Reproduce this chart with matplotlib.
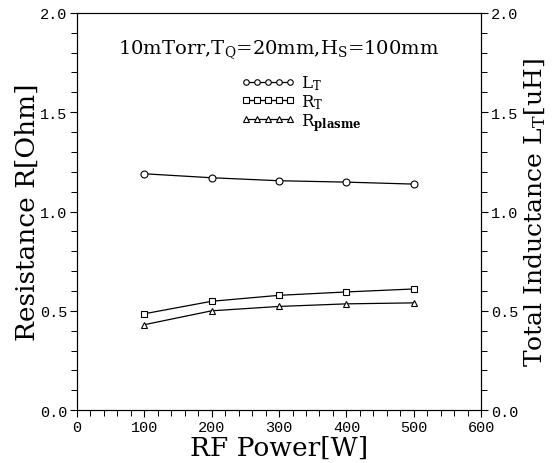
import matplotlib
matplotlib.use("Agg")
import matplotlib.pyplot as plt
from matplotlib.ticker import MultipleLocator

plt.rcParams["font.family"] = ["DejaVu Serif"]
plt.rcParams["mathtext.fontset"] = "dejavuserif"

power = [100, 200, 300, 400, 500]
l_total = [1.19, 1.17, 1.155, 1.148, 1.138]
r_total = [0.485, 0.548, 0.578, 0.595, 0.61]
r_plasma = [0.43, 0.50, 0.522, 0.535, 0.54]

x_ticks = [0, 100, 200, 300, 400, 500, 600]
y_ticks = [0.0, 0.5, 1.0, 1.5, 2.0]

fig = plt.figure(figsize=(5.57, 4.64), dpi=100)
ax = fig.add_axes([0.138, 0.114, 0.726, 0.856])
ax2 = ax.twinx()

mk = dict(color="black", lw=0.9, ms=5, mfc="white", mew=0.8)
l1, = ax2.plot(power, l_total, marker="o", label=r"L$_\mathrm{T}$", **mk)
l2, = ax.plot(power, r_total, marker="s", label=r"R$_\mathrm{T}$", **mk)
l3, = ax.plot(power, r_plasma, marker="^", label=r"R$_\mathbf{plasme}$", **mk)

ax.set_xlim(0, 600)
ax.set_ylim(0, 2.0)
ax2.set_ylim(0, 2.0)
ax.set_xticks(x_ticks)
ax.set_yticks(y_ticks)
ax2.set_yticks(y_ticks)
ax.xaxis.set_minor_locator(MultipleLocator(20))
ax.yaxis.set_minor_locator(MultipleLocator(0.1))
ax2.yaxis.set_minor_locator(MultipleLocator(0.1))

tick_font = dict(family="Liberation Mono", size=11)
for a in (ax, ax2):
    a.tick_params(which="major", length=5, width=0.8, direction="out", pad=2)
    a.tick_params(which="minor", length=4, width=0.7, direction="out")
ax.set_xticklabels([str(v) for v in x_ticks], **tick_font)
ax.set_yticklabels([f"{v:.1f}" for v in y_ticks], **tick_font)
ax2.set_yticklabels([f"{v:.1f}" for v in y_ticks], **tick_font)
ax.tick_params(axis="x", top=False)

ax.set_xlabel("RF Power[W]", fontsize=19, labelpad=1)
ax.set_ylabel("Resistance R[Ohm]", fontsize=19, labelpad=0)
ax2.set_ylabel(r"Total Inductance L$_\mathrm{T}$[uH]", fontsize=18, labelpad=3)

ax.text(0.5, 0.91, r"10mTorr,T$_\mathrm{Q}$=20mm,H$_\mathrm{S}$=100mm",
        transform=ax.transAxes, ha="center", va="center", fontsize=14)
ax.legend(handles=[l1, l2, l3], loc="upper left", bbox_to_anchor=(0.37, 0.885),
          frameon=False, numpoints=5, handlelength=3.2, handletextpad=0.4,
          labelspacing=0.0, fontsize=12, markerscale=0.8)

fig.savefig("out.png", dpi=100)
